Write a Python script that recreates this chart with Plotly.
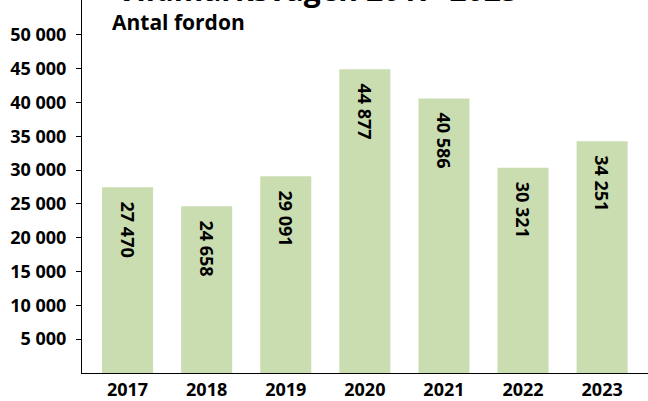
import plotly.graph_objects as go

years = ["2017", "2018", "2019", "2020", "2021", "2022", "2023"]
vehicles = [27470, 24658, 29091, 44877, 40586, 30321, 34251]
tick_vals = [5000, 10000, 15000, 20000, 25000, 30000, 35000, 40000, 45000, 50000]
tick_text = ["5 000", "10 000", "15 000", "20 000", "25 000", "30 000",
             "35 000", "40 000", "45 000", "50 000"]

def fmt(v):
    return f"{v:,}".replace(",", " ")

FONT = "Open Sans"

fig = go.Figure()
fig.add_trace(go.Bar(
    x=years,
    y=vehicles,
    width=0.645,
    marker=dict(color="#CADDB1", line=dict(width=0)),
    hoverinfo="skip",
))

# value labels, rotated, just below the top of each bar
for i, v in enumerate(vehicles):
    fig.add_annotation(
        x=i, y=v, xref="x", yref="y",
        text=f"<b>{fmt(v)}</b>", textangle=90,
        xanchor="center", yanchor="top", yshift=-12,
        showarrow=False,
        font=dict(family=FONT, size=18, color="black"),
    )

fig.add_annotation(
    text="<b>Vildmarksvägen 2017–2023</b>",
    xref="paper", yref="paper", x=0.058, y=1 - 12.5 / 376,
    xanchor="left", yanchor="bottom", showarrow=False,
    font=dict(family=FONT, size=30, color="black"),
)
fig.add_annotation(
    text="<b>Antal fordon</b>",
    xref="paper", yref="paper", x=0.05, y=1 - 22 / 376,
    xanchor="left", yanchor="middle", showarrow=False,
    font=dict(family=FONT, size=21, color="black"),
)

fig.update_layout(
    width=648, height=401,
    margin=dict(l=82, r=0, t=0, b=25),
    paper_bgcolor="white", plot_bgcolor="white",
    showlegend=False,
    xaxis=dict(
        type="category",
        range=[-0.576, 6.58],
        showline=True, linecolor="black", linewidth=1,
        ticks="", showgrid=False,
        tickfont=dict(family=FONT, size=18, color="black", weight="bold"),
        zeroline=False,
    ),
    yaxis=dict(
        range=[0, 55130],
        tickvals=tick_vals, ticktext=tick_text,
        showline=True, linecolor="black", linewidth=1,
        ticks="outside", ticklen=5, tickcolor="black",
        ticklabelstandoff=6,
        showgrid=False, zeroline=False,
        tickfont=dict(family=FONT, size=18, color="black", weight="bold"),
    ),
)

fig.write_html("out.html")
